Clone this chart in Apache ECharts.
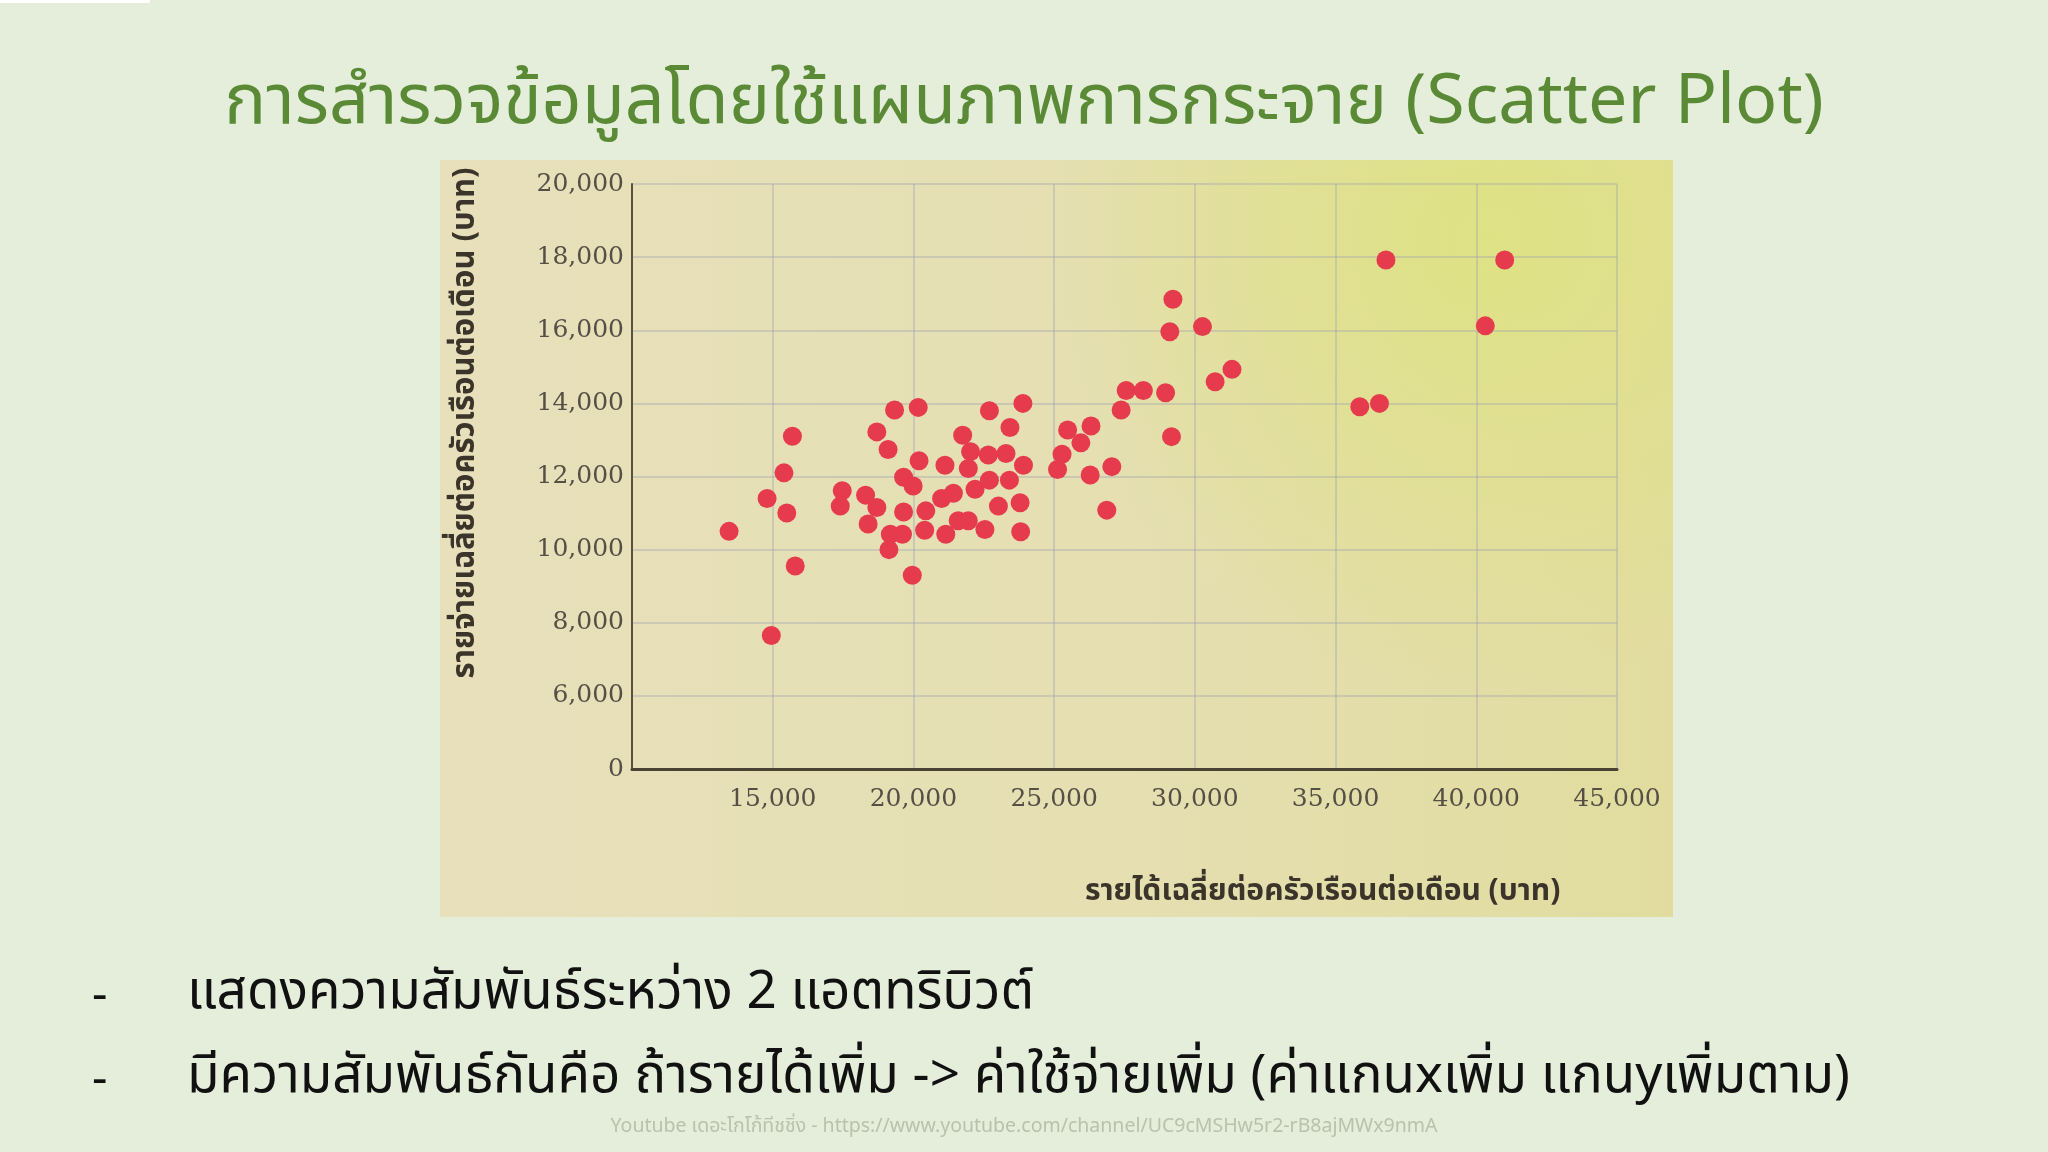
<!DOCTYPE html>
<html>
<head>
<meta charset="utf-8">
<script src="https://cdn.jsdelivr.net/npm/echarts@6/dist/echarts.min.js"></script>
<style>
  html, body { margin: 0; padding: 0; background: #e4eeda; }
  #main { width: 2048px; height: 1152px; }
</style>
</head>
<body>
<div id="main"></div>
<script>
  // รายได้เฉลี่ยต่อครัวเรือนต่อเดือน (บาท)
  var income = [
    13450, 14800, 15400, 15700, 15500, 15800, 14950,
    19330, 20170, 18700, 19100, 20200, 19650, 19990, 17470, 17400, 18300,
    18700, 18390, 19180, 19610, 19130, 19650, 19960, 20440, 20400, 21120,
    21000, 21420, 21150, 21590, 21950, 21750, 22030, 21950, 22660, 23290,
    22190, 22700, 23410, 22700, 23890, 23430, 23910, 23020, 23790, 22540,
    23810, 25480, 26310, 25950, 25280, 25120, 26280,
    27050, 26870, 27560, 28170, 28960, 27380, 29170, 29220, 29110, 30270,
    31320, 30720, 36790, 41010, 40320, 35860, 36560
  ];
  // รายจ่ายเฉลี่ยต่อครัวเรือนต่อเดือน (บาท)
  var expense = [
    10500, 11400, 12100, 13100, 11000, 9550, 7650,
    13820, 13890, 13220, 12740, 12430, 11980, 11740, 11610, 11190, 11490,
    11150, 10700, 10420, 10420, 10000, 11030, 9300, 11060, 10530, 12310,
    11400, 11540, 10420, 10790, 10790, 13130, 12680, 12220, 12590, 12630,
    11650, 11900, 11900, 13800, 14000, 13340, 12310, 11190, 11280, 10550,
    10490, 13270, 13380, 12920, 12610, 12190, 12040,
    12270, 11080, 14350, 14350, 14290, 13820, 13090, 16850, 15960, 16100,
    14930, 14590, 17920, 17920, 16120, 13910, 14000
  ];
  var xTicks = [10000, 15000, 20000, 25000, 30000, 35000, 40000, 45000];
  var yTicks = [4000, 6000, 8000, 10000, 12000, 14000, 16000, 18000, 20000];

  var titleText = 'การสำรวจข้อมูลโดยใช้แผนภาพการกระจาย (Scatter Plot)';
  var xName = 'รายได้เฉลี่ยต่อครัวเรือนต่อเดือน (บาท)';
  var yName = 'รายจ่ายเฉลี่ยต่อครัวเรือนต่อเดือน (บาท)';
  var bullets = [
    'แสดงความสัมพันธ์ระหว่าง 2 แอตทริบิวต์',
    'มีความสัมพันธ์กันคือ ถ้ารายได้เพิ่ม -> ค่าใช้จ่ายเพิ่ม (ค่าแกนxเพิ่ม แกนyเพิ่มตาม)'
  ];
  var footer = 'Youtube เดอะโกโก้ทีชชิ่ง - https://www.youtube.com/channel/UC9cMSHw5r2-rB8ajMWx9nmA';

  var points = income.map(function (v, i) { return [v, expense[i]]; });

  var thaiFont = '"Noto Sans Thai", "Noto Sans", "DejaVu Sans", sans-serif';
  var tickFont = '"DejaVu Serif", serif';

  var myChart = echarts.init(document.getElementById('main'));
  myChart.setOption({
    backgroundColor: '#e4eeda',
    animation: false,
    title: {
      text: titleText,
      left: 'center',
      top: 69,
      textStyle: { color: '#5b8a36', fontSize: 70, fontWeight: 'normal', fontFamily: thaiFont }
    },
    graphic: [
      { type: 'rect', z: -10, silent: true, shape: { x: 440, y: 160, width: 1233, height: 757 },
        style: { fill: { type: 'linear', x: 0, y: 0, x2: 1, y2: 0, colorStops: [
          { offset: 0, color: '#e7e0bb' }, { offset: 0.55, color: '#e5dfb2' }, { offset: 1, color: '#e1dc9e' }] } } },
      { type: 'rect', z: -9, silent: true, shape: { x: 440, y: 160, width: 1233, height: 757 },
        style: { fill: { type: 'radial', x: 0.85, y: 0.1, r: 0.6, colorStops: [
          { offset: 0, color: 'rgba(222,226,128,0.9)' }, { offset: 1, color: 'rgba(222,226,128,0)' }] } } },
      { type: 'rect', z: -10, silent: true, shape: { x: 0, y: 0, width: 150, height: 3 }, style: { fill: '#ffffff' } },
      { type: 'text', x: 468, y: 423, rotation: Math.PI / 2, style: {
          text: yName, fill: '#3b342a', align: 'center', verticalAlign: 'middle',
          font: 'bold 31px ' + thaiFont } },
      { type: 'text', left: 1085, top: 879, style: {
          text: xName, fill: '#3b342a', font: 'bold 30px ' + thaiFont } },
      { type: 'text', left: 92, top: 976, style: { text: '-', fill: '#111', font: '48px ' + thaiFont } },
      { type: 'text', left: 187, top: 971, style: { text: bullets[0], fill: '#111', font: '53px ' + thaiFont } },
      { type: 'text', left: 92, top: 1060, style: { text: '-', fill: '#111', font: '48px ' + thaiFont } },
      { type: 'text', left: 187, top: 1055, style: { text: bullets[1], fill: '#111', font: '53px ' + thaiFont } },
      { type: 'text', left: 'center', top: 1118, style: { text: footer, fill: '#b8c2ac', font: '19.5px ' + thaiFont } }
    ],
    grid: { left: 632, right: 431, top: 184, bottom: 383 },
    xAxis: {
      type: 'value',
      min: xTicks[0],
      max: xTicks[xTicks.length - 1],
      interval: 5000,
      axisLine: { show: true, onZero: false, lineStyle: { color: '#4a4232', width: 3 } },
      axisTick: { show: false },
      axisLabel: {
        margin: 18, color: '#564f45', fontSize: 25, fontFamily: tickFont,
        formatter: function (v) { return v === xTicks[0] ? '' : v.toLocaleString('en-US'); }
      },
      splitLine: { show: true, lineStyle: { color: 'rgba(160,162,175,0.38)', width: 2 } }
    },
    yAxis: {
      type: 'value',
      min: yTicks[0],
      max: yTicks[yTicks.length - 1],
      interval: 2000,
      axisLine: { show: true, onZero: false, lineStyle: { color: '#5a503e', width: 2 } },
      axisTick: { show: false },
      axisLabel: {
        margin: 8, color: '#564f45', fontSize: 25, fontFamily: tickFont,
        formatter: function (v) { return v === yTicks[0] ? '0' : v.toLocaleString('en-US'); }
      },
      splitLine: { show: true, lineStyle: { color: 'rgba(160,162,175,0.38)', width: 2 } }
    },
    series: [{
      type: 'scatter',
      data: points,
      symbolSize: 19,
      itemStyle: { color: '#e63a4d', opacity: 1 }
    }]
  });
</script>
</body>
</html>
